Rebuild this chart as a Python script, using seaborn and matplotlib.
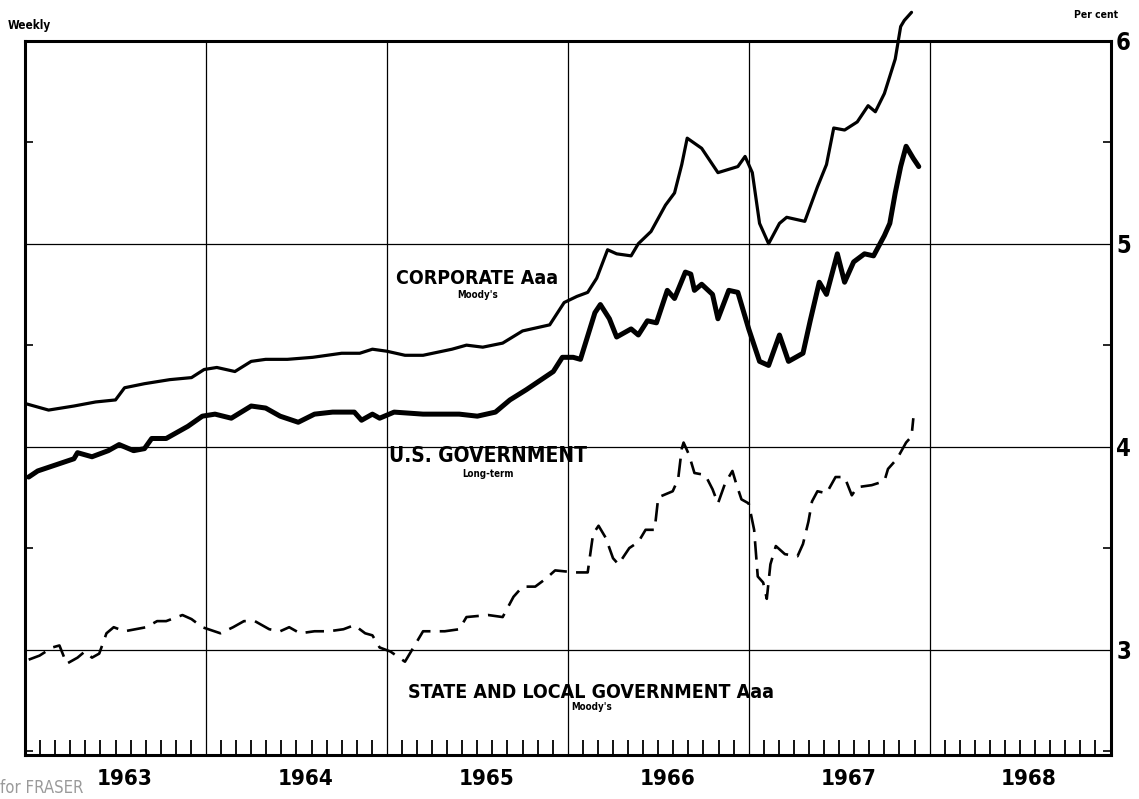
import matplotlib.pyplot as plt
import matplotlib.ticker as mticker
import matplotlib.transforms as mtransforms
import pandas as pd
import seaborn as sns

# weekly yields: time in decimal years, yield in per cent
corp_t = [1963.01, 1963.13, 1963.27, 1963.39, 1963.50, 1963.55, 1963.66, 1963.80, 1963.92, 1963.99,
          1964.06, 1964.16, 1964.25, 1964.33, 1964.45, 1964.59, 1964.75, 1964.85, 1964.92, 1965.00,
          1965.10, 1965.20, 1965.36, 1965.44, 1965.53, 1965.64, 1965.75, 1965.90, 1965.98, 1966.05,
          1966.11, 1966.16, 1966.22, 1966.27, 1966.35, 1966.39, 1966.46, 1966.54, 1966.59, 1966.63,
          1966.66, 1966.74, 1966.83, 1966.94, 1966.98, 1967.02, 1967.06, 1967.11, 1967.17, 1967.21,
          1967.26, 1967.31, 1967.38, 1967.43, 1967.47, 1967.53, 1967.60, 1967.66, 1967.70, 1967.75,
          1967.81, 1967.84, 1967.86, 1967.90]
corp_v = [4.21, 4.18, 4.20, 4.22, 4.23, 4.29, 4.31, 4.33, 4.34, 4.38,
          4.39, 4.37, 4.42, 4.43, 4.43, 4.44, 4.46, 4.46, 4.48, 4.47,
          4.45, 4.45, 4.48, 4.50, 4.49, 4.51, 4.57, 4.60, 4.71, 4.74,
          4.76, 4.83, 4.97, 4.95, 4.94, 5.00, 5.06, 5.19, 5.25, 5.39,
          5.52, 5.47, 5.35, 5.38, 5.43, 5.35, 5.10, 5.00, 5.10, 5.13,
          5.12, 5.11, 5.28, 5.39, 5.57, 5.56, 5.60, 5.68, 5.65, 5.74,
          5.91, 6.07, 6.10, 6.14]

gov_t = [1963.02, 1963.07, 1963.17, 1963.27, 1963.29, 1963.37, 1963.46, 1963.52, 1963.60, 1963.66,
         1963.70, 1963.78, 1963.86, 1963.90, 1963.98, 1964.05, 1964.14, 1964.25, 1964.33, 1964.41,
         1964.51, 1964.60, 1964.70, 1964.82, 1964.86, 1964.92, 1964.96, 1965.04, 1965.20, 1965.40,
         1965.50, 1965.60, 1965.68, 1965.77, 1965.87, 1965.92, 1965.97, 1966.03, 1966.07, 1966.15,
         1966.18, 1966.23, 1966.27, 1966.35, 1966.39, 1966.44, 1966.49, 1966.55, 1966.59, 1966.65,
         1966.68, 1966.70, 1966.74, 1966.80, 1966.83, 1966.89, 1966.94, 1967.00, 1967.06, 1967.11,
         1967.17, 1967.22, 1967.30, 1967.34, 1967.39, 1967.43, 1967.49, 1967.53, 1967.58, 1967.64,
         1967.69, 1967.75, 1967.78, 1967.81, 1967.84, 1967.87, 1967.91, 1967.94]
gov_v = [3.85, 3.88, 3.91, 3.94, 3.97, 3.95, 3.98, 4.01, 3.98, 3.99,
         4.04, 4.04, 4.08, 4.10, 4.15, 4.16, 4.14, 4.20, 4.19, 4.15,
         4.12, 4.16, 4.17, 4.17, 4.13, 4.16, 4.14, 4.17, 4.16, 4.16,
         4.15, 4.17, 4.23, 4.28, 4.34, 4.37, 4.44, 4.44, 4.43, 4.66,
         4.70, 4.63, 4.54, 4.58, 4.55, 4.62, 4.61, 4.77, 4.73, 4.86,
         4.85, 4.77, 4.80, 4.75, 4.63, 4.77, 4.76, 4.58, 4.42, 4.40,
         4.55, 4.42, 4.46, 4.62, 4.81, 4.75, 4.95, 4.81, 4.91, 4.95,
         4.94, 5.04, 5.10, 5.25, 5.38, 5.48, 5.42, 5.38]

state_t = [1963.02, 1963.08, 1963.15, 1963.19, 1963.23, 1963.29, 1963.33, 1963.37, 1963.41, 1963.45,
           1963.49, 1963.55, 1963.61, 1963.67, 1963.73, 1963.78, 1963.87, 1963.92, 1963.98, 1964.08,
           1964.15, 1964.21, 1964.27, 1964.35, 1964.41, 1964.46, 1964.52, 1964.60, 1964.68, 1964.76,
           1964.82, 1964.88, 1964.92, 1964.96, 1965.02, 1965.10, 1965.16, 1965.20, 1965.32, 1965.40,
           1965.44, 1965.56, 1965.64, 1965.70, 1965.75, 1965.82, 1965.88, 1965.93, 1966.04, 1966.11,
           1966.14, 1966.17, 1966.21, 1966.25, 1966.28, 1966.34, 1966.39, 1966.43, 1966.48, 1966.50,
           1966.58, 1966.61, 1966.63, 1966.64, 1966.67, 1966.70, 1966.76, 1966.80, 1966.83, 1966.87,
           1966.91, 1966.93, 1966.96, 1967.00, 1967.03, 1967.05, 1967.08, 1967.10, 1967.12, 1967.15,
           1967.20, 1967.27, 1967.30, 1967.33, 1967.35, 1967.38, 1967.43, 1967.48, 1967.53, 1967.57,
           1967.60, 1967.68, 1967.75, 1967.77, 1967.82, 1967.87, 1967.90, 1967.91]
state_v = [2.95, 2.97, 3.01, 3.02, 2.93, 2.96, 2.99, 2.96, 2.98, 3.08,
           3.11, 3.09, 3.10, 3.11, 3.14, 3.14, 3.17, 3.15, 3.11, 3.08,
           3.11, 3.14, 3.14, 3.10, 3.09, 3.11, 3.08, 3.09, 3.09, 3.10,
           3.12, 3.08, 3.07, 3.01, 2.99, 2.94, 3.03, 3.09, 3.09, 3.10,
           3.16, 3.17, 3.16, 3.26, 3.31, 3.31, 3.35, 3.39, 3.38, 3.38,
           3.57, 3.61, 3.55, 3.45, 3.42, 3.50, 3.53, 3.59, 3.59, 3.75,
           3.78, 3.84, 3.99, 4.02, 3.96, 3.87, 3.86, 3.79, 3.72, 3.82,
           3.88, 3.82, 3.74, 3.72, 3.59, 3.36, 3.33, 3.25, 3.42, 3.51,
           3.47, 3.46, 3.52, 3.63, 3.73, 3.78, 3.77, 3.85, 3.85, 3.76,
           3.80, 3.81, 3.83, 3.89, 3.94, 4.02, 4.05, 4.14]

years = [1963, 1964, 1965, 1966, 1967, 1968]
pct_ticks = [3, 4, 5, 6]

sns.set_theme(style="white")
plt.rcParams['font.family'] = ['DejaVu Sans']
plt.rcParams['font.stretch'] = 'condensed'
plt.rcParams['text.color'] = 'black'

fig, ax = plt.subplots(figsize=(11.39, 7.99), dpi=100)
fig.subplots_adjust(left=0.022, right=0.975, top=0.949, bottom=0.055)

corp = pd.DataFrame({"t": corp_t, "pct": corp_v})
gov = pd.DataFrame({"t": gov_t, "pct": gov_v})
state = pd.DataFrame({"t": state_t, "pct": state_v})

sns.lineplot(data=corp, x="t", y="pct", color="black", lw=2.3, estimator=None, sort=False,
             ax=ax, clip_on=False)
sns.lineplot(data=gov, x="t", y="pct", color="black", lw=3.6, estimator=None, sort=False, ax=ax)
sns.lineplot(data=state, x="t", y="pct", color="black", lw=1.9, estimator=None, sort=False,
             ax=ax, linestyle=(0, (7, 3.5)))

ax.set_xlim(1963, 1969)
ax.set_ylim(2.48, 6.0)
ax.set_xlabel("")
ax.set_ylabel("")

# year grid lines with monthly ticks along the bottom
ax.set_xticks(range(1963, 1970))
ax.xaxis.set_minor_locator(mticker.MultipleLocator(1 / 12))
ax.tick_params(axis='x', which='major', length=0, labelbottom=False)
ax.tick_params(axis='x', which='minor', direction='in', length=11, width=1.3, color='black',
               bottom=True, top=False)

ax.yaxis.tick_right()
ax.set_yticks(pct_ticks)
ax.set_yticklabels([str(p) for p in pct_ticks], fontweight='bold')
ax.yaxis.set_minor_locator(mticker.MultipleLocator(0.5))
ax.tick_params(axis='y', which='major', length=0, labelsize=17, pad=4, labelcolor='black')
ax.tick_params(axis='y', which='minor', direction='in', length=6, width=1.2, color='black',
               left=True, right=True)

ax.grid(True, which='major', color='black', lw=0.9)
for s in ax.spines.values():
    s.set_linewidth(2.2)
    s.set_color('black')

trans = mtransforms.blended_transform_factory(ax.transData, ax.transAxes)
for y in years:
    ax.text(y + 0.55, -0.02, str(y), transform=trans, ha='center', va='top',
            fontsize=16, fontweight='bold')

# series labels
ax.text(1965.5, 4.83, "CORPORATE Aaa", ha='center', va='center', fontsize=14, fontweight='bold')
ax.text(1965.5, 4.745, "Moody's", ha='center', va='center', fontsize=7, fontweight='bold')
ax.text(1965.56, 3.955, "U.S. GOVERNMENT", ha='center', va='center', fontsize=15, fontweight='bold')
ax.text(1965.56, 3.865, "Long-term", ha='center', va='center', fontsize=7, fontweight='bold')
ax.text(1966.13, 2.79, "STATE AND LOCAL GOVERNMENT Aaa", ha='center', va='center',
        fontsize=14, fontweight='bold')
ax.text(1966.13, 2.715, "Moody's", ha='center', va='center', fontsize=7, fontweight='bold')

fig.text(0.007, 0.96, "Weekly", fontsize=8.5, fontweight='bold', va='bottom')
fig.text(0.982, 0.975, "Per cent", fontsize=7.5, fontweight='bold', ha='right', va='bottom')
fig.text(0.0, 0.003, "for FRASER", fontsize=12, color='#9a9a9a', va='bottom')

plt.savefig("out.png", dpi=100)
